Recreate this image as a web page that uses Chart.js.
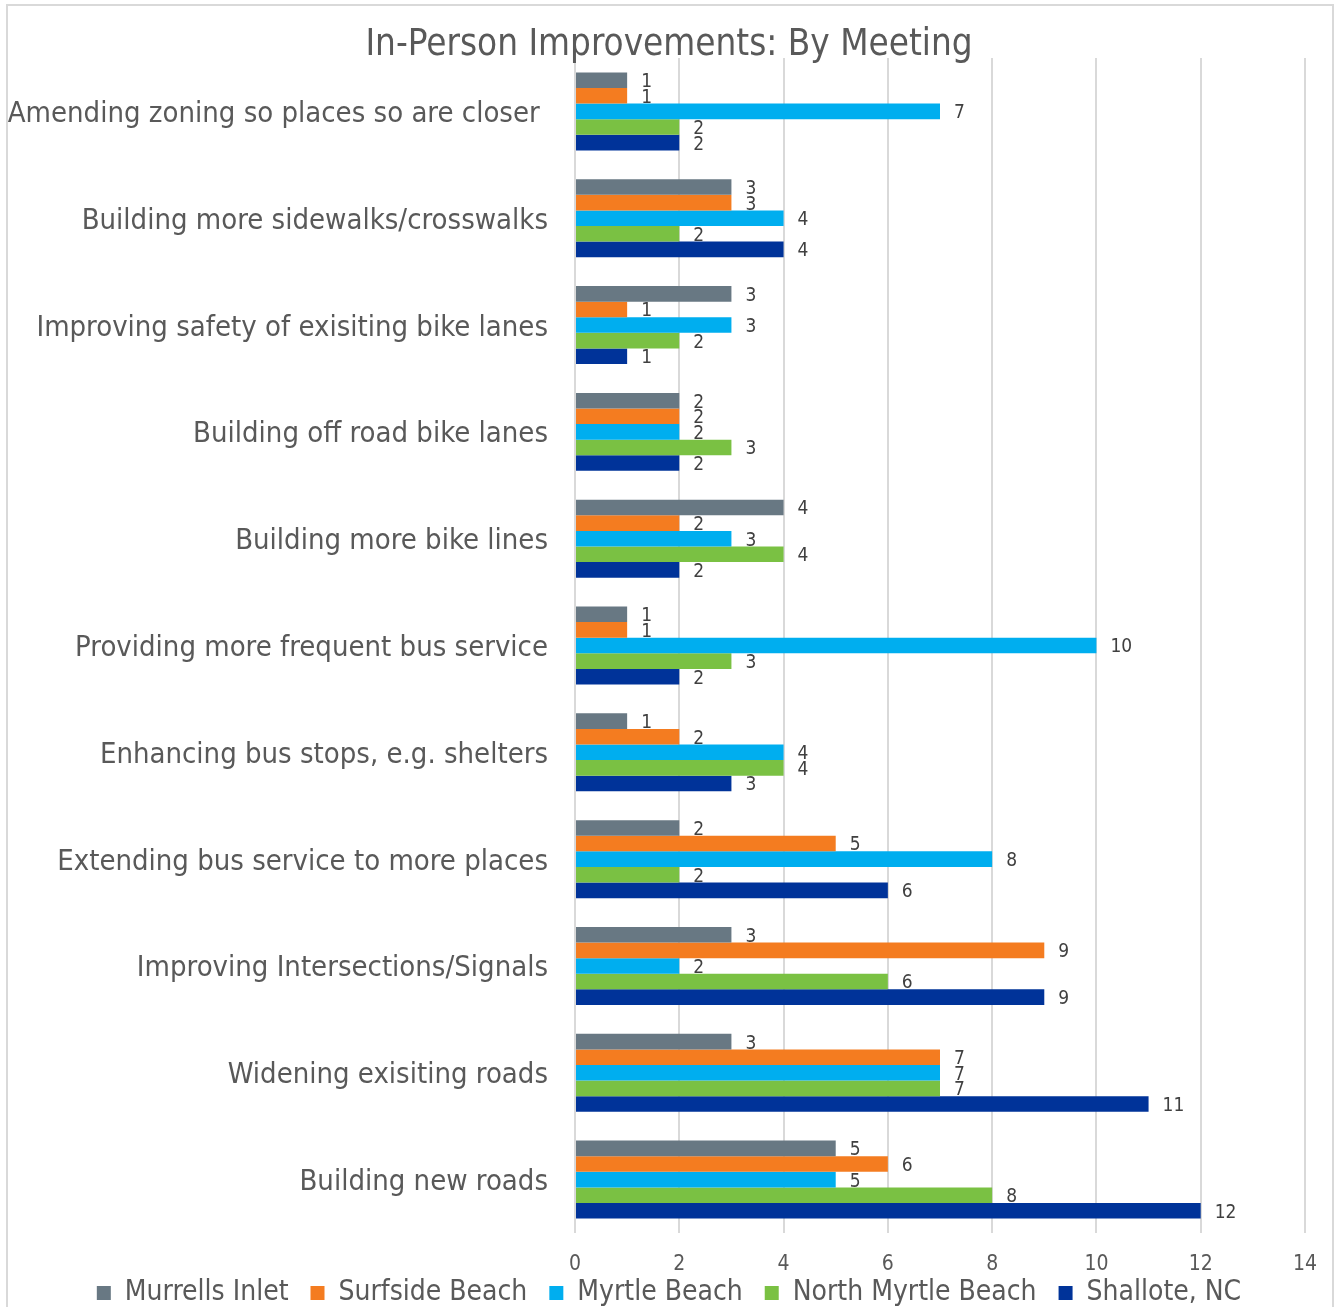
<!DOCTYPE html>
<html>
<head>
<meta charset="utf-8">
<title>In-Person Improvements: By Meeting</title>
<script src="https://cdn.jsdelivr.net/npm/chart.js@4/dist/chart.umd.min.js"></script>
<style>
  html, body { margin:0; padding:0; background:#fff; }
  #wrap { width:1338px; height:1307px; }
</style>
</head>
<body>
<div id="wrap"><canvas id="chart" width="1338" height="1307"></canvas></div>
<script>
  // categories, top to bottom as drawn
  const categories = [
    'Amending zoning so places so are closer ',
    'Building more sidewalks/crosswalks',
    'Improving safety of exisiting bike lanes',
    'Building off road bike lanes',
    'Building more bike lines',
    'Providing more frequent bus service',
    'Enhancing bus stops, e.g. shelters',
    'Extending bus service to more places',
    'Improving Intersections/Signals',
    'Widening exisiting roads',
    'Building new roads'
  ];
  const seriesNames = ['Murrells Inlet','Surfside Beach','Myrtle Beach','North Myrtle Beach','Shallote, NC'];
  const murrellsInlet    = [1, 3, 3, 2, 4, 1, 1, 2, 3, 3, 5];
  const surfsideBeach    = [1, 3, 1, 2, 2, 1, 2, 5, 9, 7, 6];
  const myrtleBeach      = [7, 4, 3, 2, 3, 10, 4, 8, 2, 7, 5];
  const northMyrtleBeach = [2, 2, 2, 3, 4, 3, 4, 2, 6, 7, 8];
  const shalloteNC       = [2, 4, 1, 2, 2, 2, 3, 6, 9, 11, 12];
  const xTicks = [0, 2, 4, 6, 8, 10, 12, 14];

  const colors = ['#687883','#f47c20','#00aeef','#7ac143','#003399'];
  const FONT = '"DejaVu Sans Condensed", "DejaVu Sans", sans-serif';
  const TXT = '#595959';

  const seriesData = [murrellsInlet, surfsideBeach, myrtleBeach, northMyrtleBeach, shalloteNC];

  // value labels at bar ends
  const barLabels = {
    id:'barLabels',
    afterDatasetsDraw(chart){
      const ctx = chart.ctx;
      ctx.save();
      ctx.font = '19px ' + FONT;
      ctx.fillStyle = '#404040';
      ctx.textAlign = 'left';
      ctx.textBaseline = 'middle';
      chart.data.datasets.forEach((ds, di) => {
        chart.getDatasetMeta(di).data.forEach((bar, i) => {
          ctx.fillText(String(ds.data[i]), bar.x + 14, bar.y + 2);
        });
      });
      ctx.restore();
    }
  };

  // white background + light frame
  const frame = {
    id:'frame',
    beforeDraw(chart){
      const ctx = chart.ctx;
      ctx.save();
      ctx.fillStyle = '#fff';
      ctx.fillRect(0, 0, chart.width, chart.height);
      ctx.strokeStyle = '#d9d9d9';
      ctx.lineWidth = 2;
      ctx.strokeRect(7, 5, 1326, 1310);
      ctx.restore();
    }
  };

  new Chart(document.getElementById('chart'), {
    type:'bar',
    data:{
      labels: categories,
      datasets: seriesNames.map((name, i) => ({
        label: name,
        data: seriesData[i],
        backgroundColor: colors[i],
        borderWidth: 0,
        categoryPercentage: 0.73,
        barPercentage: 1
      }))
    },
    options:{
      indexAxis:'y',
      responsive:false,
      animation:false,
      devicePixelRatio:1,
      layout:{ padding:{ left:0, right:0, top:0, bottom:-10 } },
      plugins:{
        title:{
          display:true,
          text:'In-Person Improvements: By Meeting',
          color:TXT,
          font:{ family:FONT, size:36.5, weight:'normal', lineHeight:1.2 },
          padding:{ top:24, bottom:-9.8 }
        },
        legend:{
          position:'bottom',
          labels:{
            color:TXT,
            font:{ family:FONT, size:28 },
            boxWidth:14, boxHeight:14,
            padding:6,
            generateLabels(chart){
              const items = Chart.defaults.plugins.legend.labels.generateLabels(chart);
              items.forEach((it, i) => { if (i < items.length - 1) it.text += '  '; });
              return items;
            }
          }
        },
        tooltip:{ enabled:false }
      },
      scales:{
        x:{
          type:'linear',
          min:0, max:14,
          afterBuildTicks(s){ s.ticks = xTicks.map(v => ({ value:v })); },
          afterFit(s){ s.height = 40; },
          grid:{ color:'#d9d9d9', lineWidth:2, drawTicks:false },
          border:{ display:false },
          ticks:{ color:TXT, font:{ family:FONT, size:21 }, padding:19 }
        },
        y:{
          afterFit(s){ s.width = 575; },
          grid:{ display:false, drawTicks:false },
          border:{ display:false },
          ticks:{ color:TXT, font:{ family:FONT, size:29 }, padding:27, crossAlign:'near', labelOffset:3 }
        },
        yRight:{
          type:'category',
          position:'right',
          labels:[''],
          afterFit(s){ s.width = 33; },
          grid:{ display:false, drawTicks:false },
          border:{ display:false },
          ticks:{ display:false }
        }
      }
    },
    plugins:[frame, barLabels]
  });
</script>
</body>
</html>
